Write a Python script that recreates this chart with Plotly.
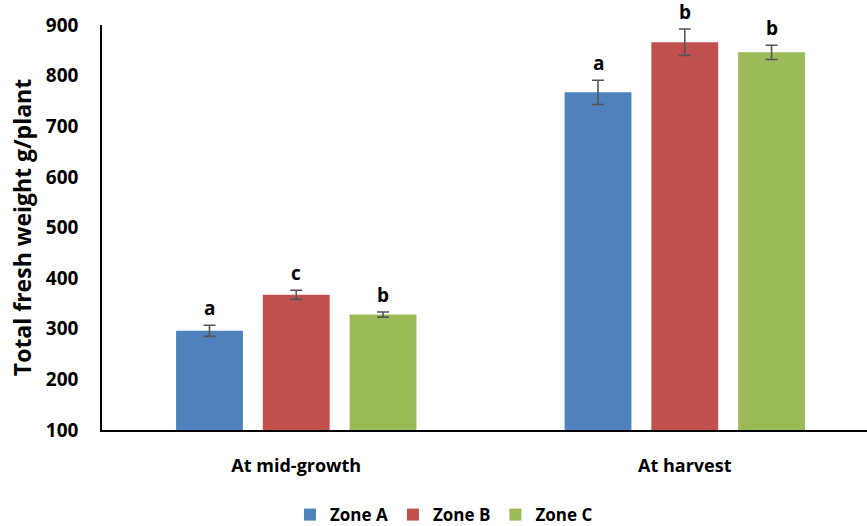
import plotly.graph_objects as go

# Stage of measurement on the x axis
stages = ["At mid-growth", "At harvest"]

# Zones, their fill colours and the mean fresh weight (g/plant) per stage
zones = ["Zone A", "Zone B", "Zone C"]
zone_colors = ["#4F81BD", "#C0504D", "#9BBB59"]
zone_a = [296, 767]
zone_b = [367, 866]
zone_c = [328, 846]
err_a = [11, 24]
err_b = [9, 26]
err_c = [5, 14]

# Significance letters shown above each bar
letters_a = ["a", "a"]
letters_b = ["c", "b"]
letters_c = ["b", "b"]

y_ticks = [100, 200, 300, 400, 500, 600, 700, 800, 900]

series_values = [zone_a, zone_b, zone_c]
series_errors = [err_a, err_b, err_c]
series_letters = [letters_a, letters_b, letters_c]

BARGAP = 0.33
BARGROUPGAP = 0.23
FONT = "Open Sans"

fig = go.Figure()
for name, color, vals, errs in zip(zones, zone_colors, series_values, series_errors):
    fig.add_trace(go.Bar(
        name=name,
        x=stages,
        y=vals,
        marker=dict(color=color, line=dict(width=0)),
        error_y=dict(type="data", array=errs, visible=True,
                     color="#555555", thickness=1.6, width=6),
    ))

# Letters placed above the error bars, using the grouped-bar offsets
slot = (1 - BARGAP) / len(zones)
annotations = []
for i, (vals, errs, lets) in enumerate(zip(series_values, series_errors, series_letters)):
    offset = (i - (len(zones) - 1) / 2) * slot
    for j in range(len(stages)):
        annotations.append(dict(
            x=j + offset, y=vals[j] + errs[j], xref="x", yref="y",
            text=lets[j], showarrow=False, yanchor="bottom", yshift=2,
            font=dict(family=FONT, size=19, color="#000000", weight="bold"),
        ))

annotations.append(dict(
    x=-0.105, y=0.5, xref="paper", yref="paper",
    xanchor="center", yanchor="middle",
    text="Total fresh weight g/plant", textangle=-90, showarrow=False,
    font=dict(family=FONT, size=23, color="#000000", weight="bold"),
))

fig.update_layout(
    width=867, height=526,
    margin=dict(l=102, r=0, t=25, b=96, autoexpand=False),
    paper_bgcolor="#FFFFFF", plot_bgcolor="#FFFFFF",
    barmode="group", bargap=BARGAP, bargroupgap=BARGROUPGAP,
    font=dict(family=FONT, color="#000000"),
    showlegend=True,
    legend=dict(orientation="h", x=0.447, xanchor="center", y=-0.21, yanchor="middle",
                font=dict(family=FONT, size=17, color="#000000", weight="bold"),
                itemwidth=30, tracegroupgap=0),
    annotations=annotations,
)
fig.update_xaxes(
    type="category", range=[-0.5, 1.469],
    showline=True, linecolor="#000000", linewidth=1.6,
    showgrid=False, ticks="", ticklabelstandoff=19,
    tickfont=dict(family=FONT, size=18, color="#000000", weight="bold"),
)
fig.update_yaxes(
    range=[100, 900], tickvals=y_ticks,
    showline=True, linecolor="#000000", linewidth=1.6,
    showgrid=False, zeroline=False, ticks="", ticklabelstandoff=18,
    tickfont=dict(family=FONT, size=19, color="#000000", weight="bold"),
)

fig.write_html("out.html")
